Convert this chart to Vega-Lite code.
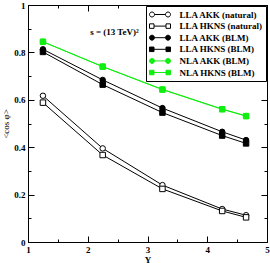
{
  "$schema": "https://vega.github.io/schema/vega-lite/v6.json",
  "width": 239,
  "height": 237,
  "autosize": {"type": "none"},
  "padding": {"left": 28, "top": 5, "right": 3, "bottom": 21},
  "background": "white",
  "config": {
    "view": {"stroke": "black", "strokeWidth": 1},
    "axis": {
      "grid": false,
      "domainColor": "black",
      "domainWidth": 1,
      "tickColor": "black",
      "tickWidth": 1,
      "labelColor": "black",
      "titleColor": "black",
      "labelFont": "Liberation Serif",
      "titleFont": "Liberation Serif",
      "labelFontWeight": "bold",
      "labelFontSize": 9,
      "labelFlush": false,
      "labelOverlap": false
    },
    "legend": {
      "orient": "top-right",
      "offset": 1,
      "padding": 3,
      "strokeColor": "black",
      "fillColor": "white",
      "symbolSize": 100,
      "symbolOffset": 5.5,
      "symbolStrokeWidth": 1,
      "labelFont": "Liberation Serif",
      "labelFontWeight": "bold",
      "labelFontSize": 9,
      "labelColor": "black",
      "labelLimit": 200,
      "labelOffset": 14,
      "rowPadding": 0.6
    }
  },
  "data": {
    "values": [
      {"s": "LLA AKK (natural)", "x": 1.25, "y": 0.617},
      {"s": "LLA AKK (natural)", "x": 2.25, "y": 0.395},
      {"s": "LLA AKK (natural)", "x": 3.25, "y": 0.240},
      {"s": "LLA AKK (natural)", "x": 4.25, "y": 0.139},
      {"s": "LLA AKK (natural)", "x": 4.65, "y": 0.113},
      {"s": "LLA HKNS (natural)", "x": 1.25, "y": 0.588},
      {"s": "LLA HKNS (natural)", "x": 2.25, "y": 0.367},
      {"s": "LLA HKNS (natural)", "x": 3.25, "y": 0.224},
      {"s": "LLA HKNS (natural)", "x": 4.25, "y": 0.131},
      {"s": "LLA HKNS (natural)", "x": 4.65, "y": 0.104},
      {"s": "LLA AKK (BLM)", "x": 1.25, "y": 0.813},
      {"s": "LLA AKK (BLM)", "x": 2.25, "y": 0.684},
      {"s": "LLA AKK (BLM)", "x": 3.25, "y": 0.565},
      {"s": "LLA AKK (BLM)", "x": 4.25, "y": 0.465},
      {"s": "LLA AKK (BLM)", "x": 4.65, "y": 0.430},
      {"s": "LLA HKNS (BLM)", "x": 1.25, "y": 0.802},
      {"s": "LLA HKNS (BLM)", "x": 2.25, "y": 0.664},
      {"s": "LLA HKNS (BLM)", "x": 3.25, "y": 0.546},
      {"s": "LLA HKNS (BLM)", "x": 4.25, "y": 0.449},
      {"s": "LLA HKNS (BLM)", "x": 4.65, "y": 0.416},
      {"s": "NLA AKK (BLM)", "x": 1.25, "y": 0.845},
      {"s": "NLA AKK (BLM)", "x": 2.25, "y": 0.740},
      {"s": "NLA AKK (BLM)", "x": 3.25, "y": 0.644},
      {"s": "NLA AKK (BLM)", "x": 4.25, "y": 0.561},
      {"s": "NLA AKK (BLM)", "x": 4.65, "y": 0.532},
      {"s": "NLA HKNS (BLM)", "x": 1.25, "y": 0.845},
      {"s": "NLA HKNS (BLM)", "x": 2.25, "y": 0.740},
      {"s": "NLA HKNS (BLM)", "x": 3.25, "y": 0.643},
      {"s": "NLA HKNS (BLM)", "x": 4.25, "y": 0.560},
      {"s": "NLA HKNS (BLM)", "x": 4.65, "y": 0.531}
    ]
  },
  "layer": [
    {
      "mark": {"type": "line"},
      "encoding": {
        "x": {
          "field": "x", "type": "quantitative",
          "scale": {"domain": [1, 5], "nice": false, "zero": false},
          "axis": {
            "orient": "bottom",
            "values": [1, 1.5, 2, 2.5, 3, 3.5, 4, 4.5, 5],
            "labelExpr": "datum.value % 1 == 0 ? format(datum.value, 'd') : ''",
            "tickSize": {"condition": {"test": "datum.value % 1 == 0", "value": -6}, "value": -3},
            "labelPadding": 9,
            "title": "Y",
            "titleFontWeight": "bold",
            "titleFontSize": 9,
            "titlePadding": -2
          }
        },
        "y": {
          "field": "y", "type": "quantitative",
          "scale": {"domain": [0, 1], "nice": false},
          "axis": {
            "orient": "left",
            "values": [0, 0.1, 0.2, 0.3, 0.4, 0.5, 0.6, 0.7, 0.8, 0.9, 1],
            "labelExpr": "round(datum.value * 10) % 2 == 0 ? format(datum.value, '') : ''",
            "tickSize": {"condition": {"test": "round(datum.value * 10) % 2 == 0", "value": -6}, "value": -3},
            "labelPadding": 9,
            "title": "<cos φ>",
            "titleFontWeight": "normal",
            "titleFontSize": 9,
            "titlePadding": 3
          }
        },
        "detail": {"field": "s", "type": "nominal"},
        "stroke": {
          "field": "s", "type": "nominal",
          "scale": {
            "domain": ["LLA AKK (natural)", "LLA HKNS (natural)", "LLA AKK (BLM)", "LLA HKNS (BLM)", "NLA AKK (BLM)", "NLA HKNS (BLM)"],
            "range": ["#000000", "#000000", "#000000", "#000000", "#11ee11", "#11ee11"]
          },
          "legend": null
        },
        "strokeWidth": {
          "field": "s", "type": "ordinal",
          "scale": {
            "domain": ["LLA AKK (natural)", "LLA HKNS (natural)", "LLA AKK (BLM)", "LLA HKNS (BLM)", "NLA AKK (BLM)", "NLA HKNS (BLM)"],
            "range": [1, 1, 1, 1, 2, 2]
          },
          "legend": null
        },
        "order": {"field": "x", "type": "quantitative"}
      }
    },
    {
      "mark": {"type": "point", "filled": true, "size": 30, "strokeWidth": 1, "opacity": 1},
      "encoding": {
        "x": {
          "field": "x", "type": "quantitative",
          "scale": {"domain": [1, 5], "nice": false, "zero": false},
          "axis": {
            "orient": "top",
            "values": [1, 1.5, 2, 2.5, 3, 3.5, 4, 4.5, 5],
            "labels": false,
            "tickSize": {"condition": {"test": "datum.value % 1 == 0", "value": -6}, "value": -3},
            "title": null
          }
        },
        "y": {
          "field": "y", "type": "quantitative",
          "scale": {"domain": [0, 1], "nice": false},
          "axis": {
            "orient": "right",
            "values": [0, 0.1, 0.2, 0.3, 0.4, 0.5, 0.6, 0.7, 0.8, 0.9, 1],
            "labels": false,
            "tickSize": {"condition": {"test": "round(datum.value * 10) % 2 == 0", "value": -6}, "value": -3},
            "title": null
          }
        },
        "shape": {
          "field": "s", "type": "nominal",
          "scale": {
            "domain": ["LLA AKK (natural)", "LLA HKNS (natural)", "LLA AKK (BLM)", "LLA HKNS (BLM)", "NLA AKK (BLM)", "NLA HKNS (BLM)"],
            "range": ["circle", "square", "circle", "square", "circle", "square"]
          },
          "legend": null
        },
        "fill": {
          "field": "s", "type": "nominal",
          "scale": {
            "domain": ["LLA AKK (natural)", "LLA HKNS (natural)", "LLA AKK (BLM)", "LLA HKNS (BLM)", "NLA AKK (BLM)", "NLA HKNS (BLM)"],
            "range": ["#ffffff", "#ffffff", "#000000", "#000000", "#11ee11", "#11ee11"]
          },
          "legend": null
        },
        "stroke": {
          "field": "s", "type": "nominal",
          "scale": {
            "domain": ["LLA AKK (natural)", "LLA HKNS (natural)", "LLA AKK (BLM)", "LLA HKNS (BLM)", "NLA AKK (BLM)", "NLA HKNS (BLM)"],
            "range": ["#000000", "#000000", "#000000", "#000000", "#11ee11", "#11ee11"]
          },
          "legend": null
        }
      }
    },
    {
      "transform": [{"filter": "datum.s == 'none'"}],
      "mark": {"type": "point", "filled": true, "strokeWidth": 1, "opacity": 1},
      "encoding": {
        "shape": {
          "field": "s", "type": "nominal",
          "scale": {
            "domain": ["LLA AKK (natural)", "LLA HKNS (natural)", "LLA AKK (BLM)", "LLA HKNS (BLM)", "NLA AKK (BLM)", "NLA HKNS (BLM)"],
            "range": [
              "M-2.1,0 A0.5,0.5 0 1,0 -1.1,0 A0.5,0.5 0 1,0 -2.1,0 Z M-1.1,0 L1.1,0 M1.1,0 A0.5,0.5 0 1,0 2.1,0 A0.5,0.5 0 1,0 1.1,0 Z",
              "M-2.1,-0.45 L-1.2,-0.45 L-1.2,0.45 L-2.1,0.45 Z M-1.2,0 L1.2,0 M1.2,-0.45 L2.1,-0.45 L2.1,0.45 L1.2,0.45 Z",
              "M-2.1,0 A0.5,0.5 0 1,0 -1.1,0 A0.5,0.5 0 1,0 -2.1,0 Z M-1.1,0 L1.1,0 M1.1,0 A0.5,0.5 0 1,0 2.1,0 A0.5,0.5 0 1,0 1.1,0 Z",
              "M-2.1,-0.45 L-1.2,-0.45 L-1.2,0.45 L-2.1,0.45 Z M-1.2,0 L1.2,0 M1.2,-0.45 L2.1,-0.45 L2.1,0.45 L1.2,0.45 Z",
              "M-2.1,0 A0.5,0.5 0 1,0 -1.1,0 A0.5,0.5 0 1,0 -2.1,0 Z M-1.1,0 L1.1,0 M1.1,0 A0.5,0.5 0 1,0 2.1,0 A0.5,0.5 0 1,0 1.1,0 Z",
              "M-2.1,-0.45 L-1.2,-0.45 L-1.2,0.45 L-2.1,0.45 Z M-1.2,0 L1.2,0 M1.2,-0.45 L2.1,-0.45 L2.1,0.45 L1.2,0.45 Z"
            ]
          },
          "legend": {"title": null}
        },
        "fill": {
          "field": "s", "type": "nominal",
          "scale": {
            "domain": ["LLA AKK (natural)", "LLA HKNS (natural)", "LLA AKK (BLM)", "LLA HKNS (BLM)", "NLA AKK (BLM)", "NLA HKNS (BLM)"],
            "range": ["#ffffff", "#ffffff", "#000000", "#000000", "#11ee11", "#11ee11"]
          },
          "legend": {"title": null}
        },
        "stroke": {
          "field": "s", "type": "nominal",
          "scale": {
            "domain": ["LLA AKK (natural)", "LLA HKNS (natural)", "LLA AKK (BLM)", "LLA HKNS (BLM)", "NLA AKK (BLM)", "NLA HKNS (BLM)"],
            "range": ["#000000", "#000000", "#000000", "#000000", "#11ee11", "#11ee11"]
          },
          "legend": {"title": null}
        }
      }
    },
    {
      "data": {"values": [{"x": 2.04, "y": 0.886, "t": "s = (13 TeV)²"}]},
      "mark": {"type": "text", "align": "left", "baseline": "middle", "font": "Liberation Serif", "fontWeight": "bold", "fontSize": 9, "color": "black"},
      "encoding": {
        "x": {"field": "x", "type": "quantitative", "axis": null},
        "y": {"field": "y", "type": "quantitative", "axis": null},
        "text": {"field": "t"}
      }
    }
  ],
  "resolve": {
    "scale": {"shape": "independent", "fill": "independent", "stroke": "independent"},
    "axis": {"x": "independent", "y": "independent"}
  }
}
